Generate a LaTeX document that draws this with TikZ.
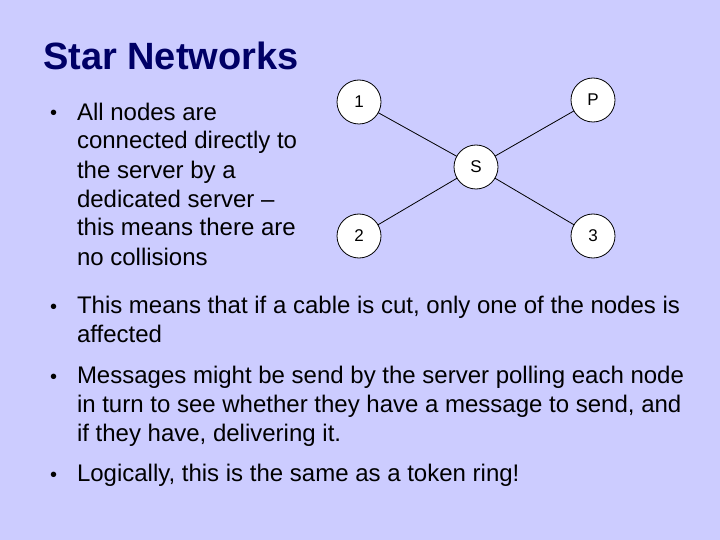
\documentclass[tikz,border=0pt]{standalone}
\usepackage{fontspec}
\setmainfont{Liberation Sans}
\usepackage{xcolor}
\definecolor{slidebg}{HTML}{CCCCFF}
\definecolor{titleblue}{HTML}{000066}
\begin{document}
\begin{tikzpicture}[x=1pt,y=-1pt,
    every node/.style={inner sep=0pt,outer sep=0pt},
    station/.style={shape=circle,draw=black,line width=0.8pt,fill=white,minimum size=44pt,font=\fontsize{17}{20}\selectfont},
    bodytext/.style={anchor=north west,align=left,font=\fontsize{24}{29}\selectfont},
    bullet/.style={anchor=base west,font=\fontsize{20}{24}\selectfont},
    link/.style={line width=0.8pt}]
  \useasboundingbox (0,0) rectangle (720,540);
  \fill[slidebg] (0,0) rectangle (720,540);
  % title
  \node[anchor=base west,text=titleblue,font=\fontsize{38}{44}\bfseries\selectfont] (title) at (43,70) {Star Networks};
  % first bullet, beside the star (the strut puts the first baseline 20.3 below the top)
  \node[bullet] (b1) at (50,120) {•};
  \node[bodytext] (t1) at (77,99.7) {\strut All nodes are\\connected directly to\\the server by a\\dedicated server –\\this means there are\\no collisions};
  % the star
  \node[station] (S) at (476,167) {S};
  \node[station] (n1) at (359,102) {1};
  \node[station] (nP) at (593,100) {P};
  \node[station] (n2) at (359,236) {2};
  \node[station] (n3) at (593,236) {3};
  \draw[link] (n1) -- (S);
  \draw[link] (nP) -- (S);
  \draw[link] (n2) -- (S);
  \draw[link] (n3) -- (S);
  % lower bullets
  \node[bullet] (b2) at (50,313) {•};
  \node[bodytext] (t2) at (77,292.7) {\strut This means that if a cable is cut, only one of the nodes is\\affected};
  \node[bullet] (b3) at (50,383) {•};
  \node[bodytext] (t3) at (77,362.7) {\strut Messages might be send by the server polling each node\\in turn to see whether they have a message to send, and\\if they have, delivering it.};
  \node[bullet] (b4) at (50,481) {•};
  \node[bodytext] (t4) at (77,460.7) {\strut Logically, this is the same as a token ring!};
\end{tikzpicture}
\end{document}
